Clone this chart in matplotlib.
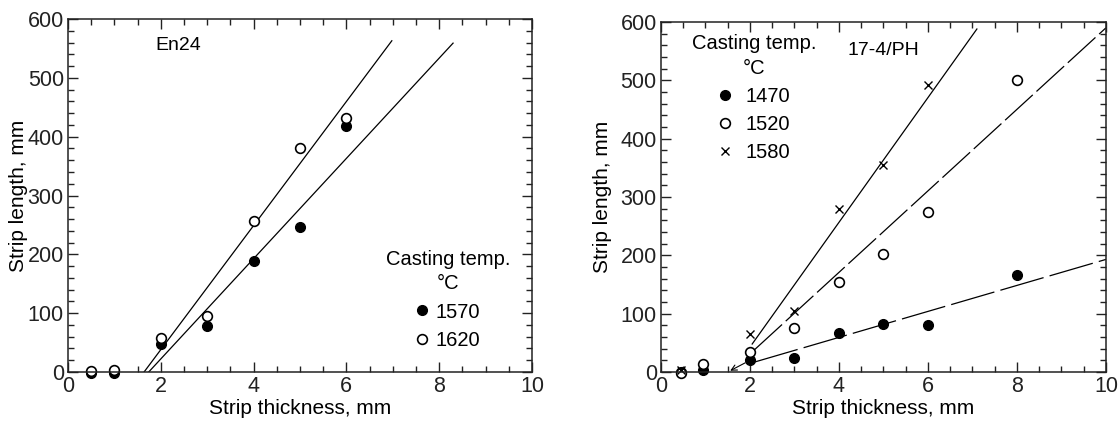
import matplotlib
matplotlib.use("Agg")
import matplotlib.pyplot as plt
from matplotlib.ticker import MultipleLocator

plt.rcParams['font.family'] = ['Liberation Sans', 'DejaVu Sans']

# En24 (left panel)
en_x = [0.5, 1, 2, 3, 4, 5, 6]
en_1570 = [-1, -2, 47, 78, 189, 247, 418]
en_1620 = [2, 3, 58, 95, 256, 381, 431]
en_fit_1620 = ([1.64, 6.98], [0, 563])
en_fit_1570 = ([1.74, 8.3], [0, 559])

# 17-4/PH (right panel)
ph_x_1470 = [0.45, 0.95, 2, 3, 4, 5, 6, 8]
ph_1470 = [0, 3, 20, 24, 67, 83, 80, 166]
ph_x_1520 = [0.45, 0.95, 2, 3, 4, 5, 6, 8]
ph_1520 = [-2, 13, 35, 75, 155, 203, 275, 500]
ph_x_1580 = [0.45, 2, 3, 4, 5, 6]
ph_1580 = [4, 65, 104, 280, 355, 492]
ph_fit_1580 = ([2.05, 7.1], [48, 588])
ph_fit_1520 = ([2.1, 10.0], [38, 590])
ph_fit_1470 = ([2.1, 10.0], [17, 193])

fig = plt.figure(figsize=(11.18, 4.25), dpi=100)
ax1 = fig.add_axes([0.0608, 0.1247, 0.415, 0.8306])
ax2 = fig.add_axes([0.5912, 0.1247, 0.3980, 0.8235])

for ax in (ax1, ax2):
    ax.set_xlim(0, 10)
    ax.set_ylim(0, 600)
    ax.xaxis.set_major_locator(MultipleLocator(2))
    ax.xaxis.set_minor_locator(MultipleLocator(0.5))
    ax.yaxis.set_major_locator(MultipleLocator(100))
    ax.yaxis.set_minor_locator(MultipleLocator(20))
    ax.tick_params(which='both', direction='in', top=True, right=True,
                   width=1, labelsize=15.5, colors='#222222')
    ax.tick_params(which='major', length=7)
    ax.tick_params(which='minor', length=4.5)
    ax.tick_params(axis='x', pad=3)
    ax.tick_params(axis='y', pad=3)
    for s in ax.spines.values():
        s.set_linewidth(1.1)
        s.set_color('#222222')
    ax.set_xlabel('Strip thickness, mm', fontsize=15, labelpad=1)

ax1.set_ylabel('Strip length, mm', fontsize=15, labelpad=0)
ax2.set_ylabel('Strip length, mm', fontsize=15, labelpad=6)

mk = dict(markersize=7, linestyle='none', clip_on=False)
leg_kw = dict(loc='upper left', frameon=False, title='Casting temp.\n°C',
              fontsize=14.5, title_fontsize=14.5, handlelength=0.6,
              labelspacing=0.45, borderpad=0, borderaxespad=0, alignment='center')

# left panel
ax1.plot(*en_fit_1620, color='k', lw=0.9)
ax1.plot(*en_fit_1570, color='k', lw=0.9)
ax1.plot(en_x, en_1570, marker='o', color='k', label='1570', **mk)
ax1.plot(en_x, en_1620, marker='o', mfc='white', mec='k', mew=1.2, label='1620', **mk)
ax1.text(2.38, 555, 'En24', fontsize=14, ha='center', va='center')
leg1 = ax1.legend(bbox_to_anchor=(0.685, 0.345), handletextpad=0.35, **leg_kw)
leg1.get_title().set_multialignment('center')
leg1.get_title().set_linespacing(1.35)

# right panel
l1, = ax2.plot(*ph_fit_1580, color='k', lw=0.9)
l2, = ax2.plot(*ph_fit_1520, color='k', lw=0.9)
l2.set_dashes([30, 4])
l3, = ax2.plot(*ph_fit_1470, color='k', lw=0.9)
l3.set_dashes([36, 5])
ax2.annotate('', xy=(1.5, 0), xytext=(1.95, 18),
             arrowprops=dict(arrowstyle='->', color='k', lw=0.8))
ax2.plot(ph_x_1470, ph_1470, marker='o', color='k', label='1470', **mk)
ax2.plot(ph_x_1520, ph_1520, marker='o', mfc='white', mec='k', mew=1.2, label='1520', **mk)
ax2.plot(ph_x_1580, ph_1580, marker='x', color='k', mew=1.0, markersize=6,
         label='1580', linestyle='none', clip_on=False)
ax2.text(5.0, 552, '17-4/PH', fontsize=14, ha='center', va='center')
leg2 = ax2.legend(bbox_to_anchor=(0.07, 0.965), handletextpad=0.7, **leg_kw)
leg2.get_title().set_multialignment('center')
leg2.get_title().set_linespacing(1.35)

fig.savefig('out.png', dpi=100)
